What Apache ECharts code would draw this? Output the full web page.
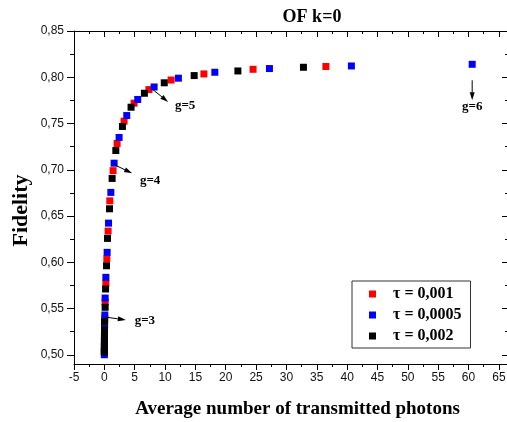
<!DOCTYPE html>
<html>
<head>
<meta charset="utf-8">
<script src="https://cdn.jsdelivr.net/npm/echarts@6/dist/echarts.min.js"></script>
<style>
html, body { margin: 0; padding: 0; background: #fff; }
#main { width: 507px; height: 422px; }
</style>
</head>
<body>
<div id="main"></div>
<script>
// [average photons, fidelity]
var tau001 = [[36.5, 0.8116], [24.5, 0.8086], [16.4, 0.8036], [11.0, 0.797], [7.35, 0.7867],
    [4.9, 0.772], [3.25, 0.7525], [2.10, 0.7284], [1.44, 0.699], [0.90, 0.6664],
    [0.62, 0.6337], [0.41, 0.6038], [0.25, 0.5772], [0.13, 0.557], [0.08, 0.539],
    [0.05, 0.532], [0.03, 0.524], [0.02, 0.517], [0.01, 0.511], [0.01, 0.506], [0.0, 0.502]];
var tau0005 = [[60.6, 0.814], [40.7, 0.8122], [27.2, 0.8094], [18.2, 0.8054], [12.2, 0.799],
    [8.2, 0.7895], [5.5, 0.776], [3.69, 0.7586], [2.43, 0.7349], [1.61, 0.7071],
    [1.07, 0.6755], [0.69, 0.6423], [0.46, 0.6107], [0.25, 0.5837], [0.13, 0.5613],
    [0.08, 0.543], [0.03, 0.5297], [0.02, 0.522], [0.01, 0.515], [0.01, 0.509],
    [0.0, 0.504], [0.0, 0.5]];
var tau002 = [[32.8, 0.8108], [22.0, 0.8068], [14.8, 0.8018], [9.87, 0.794], [6.6, 0.7827],
    [4.4, 0.7676], [2.98, 0.7468], [1.89, 0.7208], [1.28, 0.6906], [0.85, 0.6578],
    [0.52, 0.6258], [0.36, 0.5962], [0.20, 0.5711], [0.13, 0.5513], [0.03, 0.5357],
    [0.02, 0.527], [0.01, 0.52], [0.01, 0.514], [0.0, 0.508], [0.0, 0.503]];

var seriesNames = ['τ = 0,001', 'τ = 0,0005', 'τ = 0,002'];
var yMajor = [0.50, 0.55, 0.60, 0.65, 0.70, 0.75, 0.80, 0.85];
var yMinor = [0.525, 0.575, 0.625, 0.675, 0.725, 0.775, 0.825];

// g labels point at points of the tau = 0,0005 series (index into tau0005)
var gLabels = ['g=3', 'g=4', 'g=5', 'g=6'];
var gIndex = [15, 9, 5, 0];
// arrow start/end offsets and label offset, in pixels
var gOffsets = [
    [0, 2, 21, 5, 40, 6],
    [-1, 1, 18, 10, 36, 17],
    [-2, 2, 14, 15, 31, 19],
    [0, 16, 0, 36, 0, 42]
];

var serif = 'Liberation Serif';
var sans = 'Liberation Sans';

function fmt(v) {
    return v.toFixed(2).replace('.', ',');
}

function yAx(pos, values, len, inside, label) {
    return {
        type: 'value', min: 0.49, max: 0.85, position: pos,
        axisLine: { show: !!label, onZero: false, lineStyle: { color: '#000', width: 1 } },
        splitLine: { show: false },
        axisTick: { show: true, customValues: values, length: len, inside: inside,
            lineStyle: { color: '#000' } },
        axisLabel: label ? { show: true, customValues: values, formatter: fmt, margin: 10,
            color: '#111', fontFamily: sans, fontSize: 12 } : { show: false },
        name: label ? 'Fidelity' : '',
        nameLocation: 'middle', nameGap: 42, nameRotate: 90, nameMoveOverlap: false,
        nameTextStyle: { fontFamily: serif, fontWeight: 'bold', fontSize: 22, color: '#000',
            padding: [0, 26, 0, 0] }
    };
}

function xAx(pos, inside, label) {
    return {
        type: 'value', min: -5, max: 66.5, interval: 5, position: pos,
        axisLine: { show: true, onZero: false, lineStyle: { color: '#000', width: 1 } },
        splitLine: { show: false },
        axisTick: { show: true, length: 6, inside: inside, lineStyle: { color: '#000' } },
        minorTick: { show: true, splitNumber: 2, length: 3, lineStyle: { color: '#000' } },
        minorSplitLine: { show: false },
        axisLabel: label ? { show: true, showMaxLabel: false, margin: 8, color: '#111',
            fontFamily: sans, fontSize: 12 } : { show: false },
        name: label ? 'Average number of transmitted photons' : '',
        nameLocation: 'middle', nameGap: 36, nameMoveOverlap: false,
        nameTextStyle: { fontFamily: serif, fontWeight: 'bold', fontSize: 19, color: '#000',
            padding: [0, 0, 0, 13] }
    };
}

function scatter(name, color, data) {
    return {
        name: name, type: 'scatter', symbol: 'rect', symbolSize: 7,
        itemStyle: { color: color, opacity: 1 }, data: data, animation: false
    };
}

var option = {
    animation: false,
    title: {
        text: 'OF k=0', left: 307, top: 3, textAlign: 'center',
        textStyle: { fontFamily: serif, fontWeight: 'bold', fontSize: 18, color: '#000' }
    },
    grid: { left: 74, right: -1, top: 31, bottom: 58, outerBoundsMode: 'none', containLabel: false },
    legend: {
        orient: 'vertical', left: 352, top: 281,
        data: seriesNames, icon: 'rect', itemWidth: 7, itemHeight: 7, itemGap: 3,
        borderColor: '#333', borderWidth: 1, padding: [4, 9, 3, 17],
        textStyle: { fontFamily: serif, fontWeight: 'bold', fontSize: 16, color: '#000',
            lineHeight: 18, padding: [0, 0, 0, 12] }
    },
    xAxis: [xAx('bottom', false, true), xAx('top', true, false)],
    yAxis: [
        yAx('left', yMajor, 7, false, true),
        yAx('left', yMinor, 4, false, false),
        yAx('right', yMajor, 6, true, false),
        yAx('right', yMinor, 3, true, false)
    ],
    series: [
        scatter(seriesNames[0], '#ff0000', tau001),
        scatter(seriesNames[1], '#0000ff', tau0005),
        scatter(seriesNames[2], '#000000', tau002)
    ]
};

var myChart = echarts.init(document.getElementById('main'));
myChart.setOption(option);

// arrows with g labels
var els = [];
for (var i = 0; i < gLabels.length; i++) {
    var p = myChart.convertToPixel({ xAxisIndex: 0, yAxisIndex: 0 }, tau0005[gIndex[i]]);
    var o = gOffsets[i];
    var x1 = p[0] + o[0], y1 = p[1] + o[1], x2 = p[0] + o[2], y2 = p[1] + o[3];
    var ang = Math.atan2(y2 - y1, x2 - x1);
    var hl = 8, hw = 2.5;
    var bx = x2 - hl * Math.cos(ang), by = y2 - hl * Math.sin(ang);
    els.push({
        type: 'line', shape: { x1: x1, y1: y1, x2: bx, y2: by },
        style: { stroke: '#000', lineWidth: 1 }, z: 100
    });
    els.push({
        type: 'polygon',
        shape: { points: [[x2, y2],
            [bx - hw * Math.sin(ang), by + hw * Math.cos(ang)],
            [bx + hw * Math.sin(ang), by - hw * Math.cos(ang)]] },
        style: { fill: '#000' }, z: 100
    });
    els.push({
        type: 'text', x: p[0] + o[4], y: p[1] + o[5],
        style: { text: gLabels[i], fill: '#000', font: 'bold 13px "Liberation Serif"',
            align: 'center', verticalAlign: 'middle' }, z: 100
    });
}
myChart.setOption({ graphic: els });
</script>
</body>
</html>
